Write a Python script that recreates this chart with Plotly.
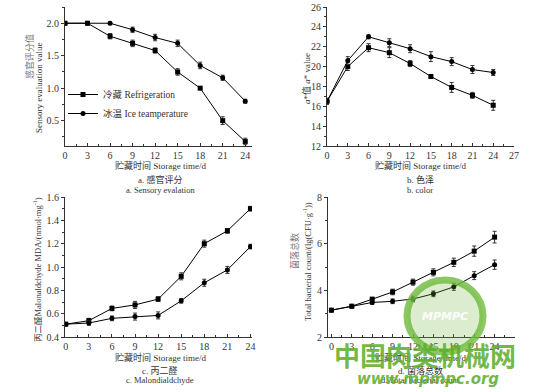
import plotly.graph_objects as go

days = [0, 3, 6, 9, 12, 15, 18, 21, 24]

# a. Sensory evaluation
sens_refrig = [2.0, 2.0, 1.80, 1.69, 1.58, 1.25, 1.00, 0.50, 0.18]
sens_refrig_err = [0.0, 0.02, 0.04, 0.05, 0.04, 0.05, 0.02, 0.06, 0.05]
sens_ice = [2.0, 2.0, 2.0, 1.90, 1.78, 1.69, 1.35, 1.16, 0.80]
sens_ice_err = [0.0, 0.02, 0.02, 0.04, 0.05, 0.05, 0.05, 0.04, 0.03]

# b. Color (a* value)
color_refrig = [16.5, 20.0, 21.9, 21.4, 20.3, 19.0, 17.9, 17.1, 16.1]
color_refrig_err = [0.3, 0.4, 0.4, 0.5, 0.3, 0.2, 0.5, 0.3, 0.5]
color_ice = [16.5, 20.6, 23.0, 22.4, 21.8, 21.0, 20.5, 19.7, 19.4]
color_ice_err = [0.3, 0.4, 0.2, 0.4, 0.4, 0.5, 0.4, 0.4, 0.3]

# c. Malondialdehyde
mda_refrig = [0.51, 0.54, 0.645, 0.675, 0.725, 0.92, 1.20, 1.31, 1.50]
mda_refrig_err = [0.01, 0.02, 0.02, 0.03, 0.02, 0.03, 0.03, 0.02, 0.02]
mda_ice = [0.51, 0.52, 0.56, 0.575, 0.585, 0.71, 0.865, 0.975, 1.175]
mda_ice_err = [0.01, 0.02, 0.02, 0.03, 0.03, 0.02, 0.03, 0.03, 0.02]

# d. Total bacterial count
tbc_refrig = [3.15, 3.32, 3.62, 3.93, 4.35, 4.77, 5.20, 5.68, 6.28]
tbc_refrig_err = [0.05, 0.07, 0.08, 0.12, 0.13, 0.15, 0.18, 0.22, 0.25]
tbc_ice = [3.15, 3.32, 3.48, 3.53, 3.63, 3.85, 4.15, 4.63, 5.10]
tbc_ice_err = [0.05, 0.07, 0.08, 0.10, 0.12, 0.12, 0.15, 0.17, 0.20]

legend_names = ["冷藏 Refrigeration", "冰温 Ice teamperature"]

SERIF = "Liberation Serif, Noto Sans CJK SC"
W, H = 550, 392


def px_x(x):
    return x / W


def px_y(y):
    return 1 - y / H


fig = go.Figure()

panels = [
    ("x", "y", sens_refrig, sens_refrig_err, sens_ice, sens_ice_err, True),
    ("x2", "y2", color_refrig, color_refrig_err, color_ice, color_ice_err, False),
    ("x3", "y3", mda_refrig, mda_refrig_err, mda_ice, mda_ice_err, False),
    ("x4", "y4", tbc_refrig, tbc_refrig_err, tbc_ice, tbc_ice_err, False),
]

for xa, ya, r, re, i, ie, show in panels:
    fig.add_trace(go.Scatter(
        x=days, y=r, xaxis=xa, yaxis=ya, mode="lines+markers",
        name=legend_names[0], showlegend=show,
        line=dict(color="black", width=1),
        marker=dict(symbol="square", size=5, color="black"),
        error_y=dict(type="data", array=re, color="#333", thickness=1, width=2),
    ))
    fig.add_trace(go.Scatter(
        x=days, y=i, xaxis=xa, yaxis=ya, mode="lines+markers",
        name=legend_names[1], showlegend=show,
        line=dict(color="black", width=1),
        marker=dict(symbol="circle", size=5, color="black"),
        error_y=dict(type="data", array=ie, color="#333", thickness=1, width=2),
    ))

tickfont = dict(family=SERIF, size=10, color="#333")


def xax(domain, rng, tickvals, anchor):
    return dict(domain=domain, range=rng, tickvals=tickvals, showline=True,
                linecolor="#333", linewidth=1, ticks="inside", ticklen=3,
                tickcolor="#333", showgrid=False, zeroline=False, tickfont=tickfont,
                minor=dict(ticks="inside", ticklen=2, tickcolor="#333", dtick=1.5, showgrid=False),
                anchor=anchor, automargin=False, fixedrange=True)


def yax(domain, rng, tickvals, anchor, minor_dtick, fmt):
    return dict(domain=domain, range=rng, tickvals=tickvals, showline=True,
                linecolor="#333", linewidth=1, ticks="outside", ticklen=3,
                tickcolor="#333", showgrid=False, zeroline=False, tickfont=tickfont,
                tickformat=fmt, anchor=anchor, automargin=False,
                minor=dict(ticks="outside", ticklen=2, tickcolor="#333", dtick=minor_dtick, showgrid=False),
                fixedrange=True)


top_dom = [px_y(146), px_y(7)]
bot_dom = [px_y(337), px_y(197)]
left_dom = [px_x(65), px_x(252)]
right_dom_b = [px_x(327), px_x(514)]
right_dom_d = [px_x(328), px_x(515)]

fig.update_layout(
    width=W, height=H, margin=dict(l=0, r=0, t=0, b=0, autoexpand=False),
    paper_bgcolor="white", plot_bgcolor="white",
    font=dict(family=SERIF, size=10, color="#333"),
    xaxis=xax(left_dom, [0, 24.9], days, "y"),
    yaxis=yax(top_dom, [0.11, 2.25], [0.5, 1.0, 1.5, 2.0], "x", 0.25, ".1f"),
    xaxis2=xax(right_dom_b, [0, 27], [0, 3, 6, 9, 12, 15, 18, 21, 24, 27], "y2"),
    yaxis2=yax(top_dom, [12, 26], [12, 14, 16, 18, 20, 22, 24, 26], "x2", 1, "d"),
    xaxis3=xax(left_dom, [-0.1, 24.2], days, "y3"),
    yaxis3=yax(bot_dom, [0.4, 1.6], [0.4, 0.6, 0.8, 1.0, 1.2, 1.4, 1.6], "x3", 0.1, ".1f"),
    xaxis4=xax(right_dom_d, [-0.5, 27], days, "y4"),
    yaxis4=yax(bot_dom, [2, 8], [2, 4, 6, 8], "x4", 1, "d"),
    legend=dict(x=px_x(63), y=px_y(80), xanchor="left", yanchor="top",
                bgcolor="rgba(0,0,0,0)", font=dict(family=SERIF, size=9.5, color="#333"),
                tracegroupgap=0, itemwidth=30),
    showlegend=True,
)

ann = []


def text(x, y, t, size=9, angle=0, color="#333"):
    ann.append(dict(x=px_x(x), y=px_y(y), xref="paper", yref="paper", text=t,
                    xanchor="center", yanchor="middle",
                    showarrow=False, textangle=angle,
                    font=dict(family=SERIF, size=size, color=color)))


# x axis titles and captions
for cx, cy in [(160, 165), (420, 165), (160, 357), (420, 357)]:
    text(cx, cy, "贮藏时间 Storage time/d", 9)
text(160, 179, "a. 感官评分", 9)
text(160, 190, "a. Sensory evalation", 8.5)
text(420, 179, "b. 色泽", 9)
text(420, 190, "b. color", 8.5)
text(160, 370, "c. 丙二醛", 9)
text(160, 380, "c. Malondialdchyde", 8.5)
text(420, 370, "d. 菌落总数", 9)
text(420, 380, "d. Total bacterial count", 8.5)

# y axis titles
text(29, 57, "感官评分值", 9, -90, "#777")
text(39, 88, "Sensory evaluation value", 9, -90)
text(306, 79, "<i>a</i>*值 <i>a</i>* value", 9, -90)
text(37, 270, "丙二醛Malonaldchyde MDA/(nmol·mg<sup>-1</sup>)", 8.5, -90)
text(295, 251, "菌落总数", 9, -90, "#777")
text(307, 262, "Total bacterial count/(lg(CFU·g<sup>-1</sup>))", 8.5, -90)

# watermark
fig.add_shape(type="circle", xref="paper", yref="paper",
              x0=px_x(407), x1=px_x(483), y0=px_y(352), y1=px_y(280),
              line=dict(color="rgba(110,185,60,0.8)", width=7),
              fillcolor="rgba(110,185,60,0.25)", layer="above")
ann.append(dict(x=px_x(445), y=px_y(316), xref="paper", yref="paper",
                xanchor="center", yanchor="middle",
                text="<b><i>MPMPC</i></b>", showarrow=False,
                font=dict(family="DejaVu Sans", size=11, color="rgba(255,255,255,0.95)")))
ann.append(dict(x=px_x(425), y=px_y(354), xref="paper", yref="paper",
                xanchor="center", yanchor="middle",
                text="<b>中国肉类机械网</b>", showarrow=False,
                font=dict(family="Noto Sans CJK SC", size=26, color="rgba(95,175,45,0.9)")))
ann.append(dict(x=px_x(428), y=px_y(379), xref="paper", yref="paper",
                xanchor="center", yanchor="middle",
                text="<b><i>www.mpmpc.org</i></b>", showarrow=False,
                font=dict(family="DejaVu Sans", size=15, color="rgba(95,175,45,0.9)")))

fig.update_layout(annotations=ann)

fig.write_html("out.html", config={"displayModeBar": False},
               post_script="document.body.style.margin='0px';document.body.style.overflow='hidden';")
